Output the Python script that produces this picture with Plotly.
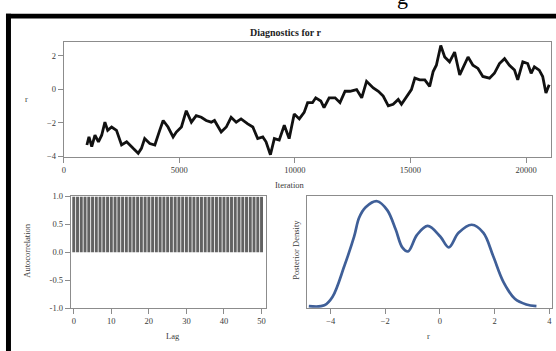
import plotly.graph_objects as go

# ---------------- data ----------------
# Trace of r
iterations = [1000, 1090, 1210, 1350, 1500, 1640, 1780, 1900, 2070, 2280, 2500, 2720,
              3000, 3220, 3360, 3500, 3720, 3940, 4150, 4300, 4510, 4730, 4870, 5090,
              5300, 5520, 5730, 5950, 6160, 6380, 6520, 6810, 7030, 7240, 7460, 7670,
              7960, 8180, 8390, 8610, 8750, 8940, 9110, 9320, 9540, 9750, 9970, 10190,
              10400, 10550, 10760, 10900, 11120, 11260, 11480, 11740, 11950, 12170, 12380,
              12670, 12890, 13100, 13390, 13610, 13820, 14040, 14250, 14470, 14610, 14830,
              15040, 15190, 15400, 15620, 15830, 15980, 16120, 16310, 16480, 16690, 16910,
              17130, 17340, 17490, 17700, 17920, 18130, 18420, 18630, 18850, 19070, 19280,
              19500, 19640, 19860, 20070, 20220, 20360, 20570, 20720, 20860, 21000]
r_values = [-3.32, -2.84, -3.42, -2.74, -3.13, -2.74, -1.96, -2.45, -2.25, -2.45, -3.32, -3.13,
            -3.52, -3.81, -3.52, -2.94, -3.23, -3.32, -2.45, -1.86, -2.25, -2.84, -2.55, -2.25,
            -1.28, -1.96, -1.57, -1.67, -1.86, -1.96, -1.86, -2.55, -2.25, -1.67, -1.96, -1.77,
            -2.06, -2.25, -2.94, -2.84, -3.13, -3.90, -2.94, -3.03, -2.15, -2.94, -1.48, -1.77,
            -1.38, -0.80, -0.80, -0.51, -0.70, -1.09, -0.51, -0.51, -0.80, -0.12, -0.12,
            -0.02, -0.51, 0.47, 0.08, -0.12, -0.41, -0.99, -0.90, -0.61, -0.90, -0.41,
            -0.02, 0.66, 0.56, 0.56, 0.17, 1.05, 1.43, 2.60, 1.92, 1.63, 2.21,
            0.85, 1.43, 1.92, 1.43, 1.24, 0.76, 0.66, 0.95, 1.53, 1.82, 1.43,
            1.14, 0.56, 1.63, 1.53, 0.95, 1.34, 1.14, 0.76, -0.22, 0.27]

# Autocorrelation by lag
lags = list(range(0, 51))
acf_values = [1.000, 1.000, 1.000, 1.000, 1.000, 1.000, 0.999, 0.999, 0.999, 0.999,
              0.999, 0.999, 0.999, 0.998, 0.998, 0.998, 0.998, 0.998, 0.998, 0.998,
              0.997, 0.997, 0.997, 0.997, 0.997, 0.997, 0.996, 0.996, 0.996, 0.996,
              0.996, 0.996, 0.995, 0.995, 0.995, 0.995, 0.995, 0.995, 0.994, 0.994,
              0.994, 0.994, 0.994, 0.993, 0.993, 0.993, 0.993, 0.993, 0.992, 0.992, 0.992]

# Posterior density of r
density_x = [-4.80, -4.23, -3.93, -3.50, -3.14, -2.96, -2.72, -2.30, -1.93, -1.62, -1.38,
             -1.17, -0.84, -0.45, 0.01, 0.32, 0.68, 1.16, 1.59, 1.95, 2.32, 2.74, 3.16, 3.53]
density_y = [0.001, 0.003, 0.024, 0.100, 0.173, 0.219, 0.245, 0.260, 0.238, 0.190, 0.146,
             0.136, 0.177, 0.199, 0.173, 0.146, 0.182, 0.202, 0.182, 0.124, 0.061, 0.019,
             0.005, 0.001]

trace_xticks = [0, 5000, 10000, 15000, 20000]
trace_xticklabels = ["0", "5000", "10000", "15000", "20000"]
trace_yticks = [-4, -2, 0, 2]
acf_xticks = [0, 10, 20, 30, 40, 50]
acf_yticks = [-1.0, -0.5, 0.0, 0.5, 1.0]
acf_yticklabels = ["-1.0", "-0.5", "0.0", "0.5", "1.0"]
dens_xticks = [-4, -2, 0, 2, 4]

title_text = "Diagnostics for r"

# ---------------- figure ----------------
W, H = 556, 351
FONT = "Liberation Serif, DejaVu Serif, serif"
AX = "#8c8c8c"
TXT = "#3a3a3a"


def px(x):
    return x / W


def py(y):
    return 1 - y / H


fig = go.Figure()

fig.add_trace(go.Scatter(x=iterations, y=r_values, mode="lines",
                         line=dict(color="#111111", width=2.8),
                         xaxis="x", yaxis="y", showlegend=False))
fig.add_trace(go.Bar(x=lags, y=acf_values, marker=dict(color="#626262", line=dict(width=0)),
                     xaxis="x2", yaxis="y2", showlegend=False))
fig.add_trace(go.Scatter(x=density_x, y=density_y, mode="lines",
                         line=dict(color="#3f5f98", width=2.7, shape="spline", smoothing=1.0),
                         xaxis="x3", yaxis="y3", showlegend=False))

axis_common = dict(showgrid=False, zeroline=False, showline=True, linecolor=AX, linewidth=1,
                   mirror=True, ticks="outside", ticklen=5, tickcolor=AX,
                   tickfont=dict(family=FONT, size=8.5, color=TXT))

dens_y_axis = {k: v for k, v in axis_common.items() if k != "ticks"}

fig.update_layout(
    width=W, height=H,
    margin=dict(l=0, r=0, t=0, b=0),
    paper_bgcolor="white", plot_bgcolor="white",
    bargap=0.22,
    xaxis=dict(domain=[px(62), px(551)], range=[0, 21080], anchor="y",
               tickvals=trace_xticks, ticktext=trace_xticklabels, **axis_common),
    yaxis=dict(domain=[py(156.7), py(38.3)], range=[-4.05, 2.8], anchor="x",
               tickvals=trace_yticks, **axis_common),
    xaxis2=dict(domain=[px(69), px(265)], range=[-0.8, 51.2], anchor="y2",
                tickvals=acf_xticks, **axis_common),
    yaxis2=dict(domain=[py(312), py(197)], range=[-1, 1], anchor="x2",
                tickvals=acf_yticks, ticktext=acf_yticklabels, **axis_common),
    xaxis3=dict(domain=[px(306), px(552)], range=[-4.87, 4.1], anchor="y3",
                tickvals=dens_xticks, **axis_common),
    yaxis3=dict(domain=[py(312), py(197)], range=[-0.004, 0.272], anchor="x3",
                showticklabels=False, ticks="", **dens_y_axis),
)


def label(text, x, y, size=8.5, angle=0, bold=False, color=TXT):
    fig.add_annotation(text=("<b>%s</b>" % text) if bold else text,
                       x=px(x), y=py(y), xref="paper", yref="paper",
                       showarrow=False, textangle=angle,
                       xanchor="center", yanchor="middle",
                       font=dict(family=FONT, size=size, color=color))


label(title_text, 285, 28, size=10, bold=True, color="#222")
label("Iteration", 289, 185)
label("r", 25, 97)
label("Lag", 172, 341)
label("Autocorrelation", 25, 252, angle=-90)
label("r", 428, 341)
label("Posterior Density", 295, 252, angle=-90)

# cropped heading glyph above the frame (cut off in the reference as well)
fig.add_annotation(text="g", x=px(402), y=py(5), xref="paper", yref="paper",
                   showarrow=False, xanchor="center", yanchor="bottom", borderpad=0,
                   font=dict(family="Liberation Serif", size=22, color="black"))

# thick black frame (top and left visible)
fig.add_shape(type="rect", xref="paper", yref="paper", x0=px(4), x1=px(560),
              y0=py(14), y1=py(9), fillcolor="black", line=dict(width=0), layer="above")
fig.add_shape(type="rect", xref="paper", yref="paper", x0=px(4), x1=px(9),
              y0=py(360), y1=py(9), fillcolor="black", line=dict(width=0), layer="above")

fig.write_html("out.html", config={"displayModeBar": False},
               post_script="document.body.style.margin='0px';")
